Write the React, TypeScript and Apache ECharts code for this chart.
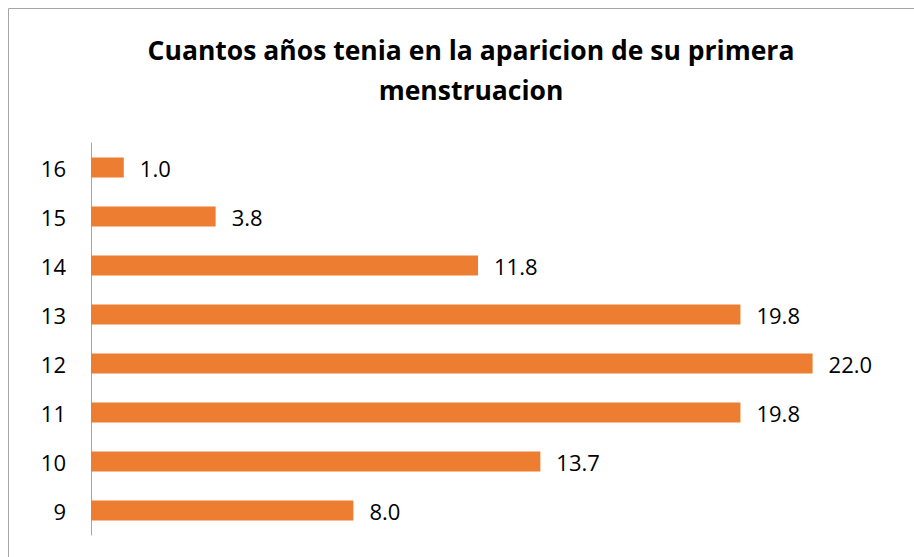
import React, { useEffect, useRef } from "react";
import * as echarts from "echarts";

const categories = ["9", "10", "11", "12", "13", "14", "15", "16"];
const values = [8.0, 13.7, 19.8, 22.0, 19.8, 11.8, 3.8, 1.0];
const titleText = "Cuantos años tenia en la aparicion de su primera\nmenstruacion";

const FONT = "'Open Sans', 'Noto Sans', sans-serif";

export default function App() {
  const ref = useRef<HTMLDivElement>(null);
  useEffect(() => {
    document.body.style.margin = "0";
    const chart = echarts.init(ref.current!, null, { renderer: "svg" });
    chart.setOption({
      animation: false,
      backgroundColor: "#ffffff",
      title: {
        text: titleText,
        left: 466,
        textAlign: "center",
        top: 25,
        textStyle: {
          fontFamily: FONT,
          fontWeight: "bold",
          fontSize: 26.5,
          lineHeight: 40,
          color: "#000000",
        },
      },
      graphic: [
        {
          type: "rect",
          shape: { x: 8.5, y: 8.5, width: 1000, height: 1000 },
          style: { fill: "none", stroke: "#a6a6a6", lineWidth: 1 },
          silent: true,
        },
      ],
      grid: { left: 91, top: 143, width: 820, height: 392, containLabel: false },
      xAxis: {
        type: "value",
        min: 0,
        max: 25,
        show: false,
      },
      yAxis: {
        type: "category",
        data: categories,
        axisLine: { show: true, lineStyle: { color: "#a6a6a6", width: 1 } },
        axisTick: { show: false },
        axisLabel: {
          margin: 25,
          fontFamily: FONT,
          fontSize: 22,
          color: "#000000",
        },
      },
      series: [
        {
          type: "bar",
          data: values,
          barWidth: 20,
          itemStyle: { color: "#ED7D31" },
          label: {
            show: true,
            position: "right",
            distance: 16,
            formatter: (p: any) => Number(p.value).toFixed(1),
            fontFamily: FONT,
            fontSize: 22,
            color: "#000000",
          },
        },
      ],
    });
    return () => chart.dispose();
  }, []);
  return <div ref={ref} style={{ width: 914, height: 557 }} />;
}
